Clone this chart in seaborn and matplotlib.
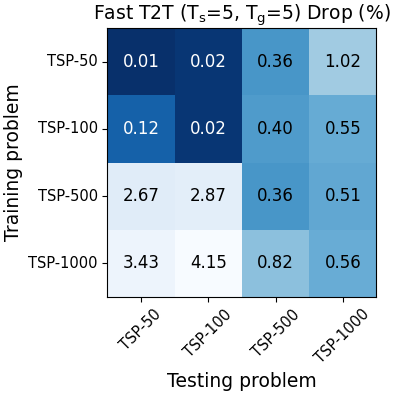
import numpy as np
import pandas as pd
import seaborn as sns
import matplotlib.pyplot as plt
from matplotlib.colors import FuncNorm

train = ["TSP-50", "TSP-100", "TSP-500", "TSP-1000"]
test = ["TSP-50", "TSP-100", "TSP-500", "TSP-1000"]
tsp50 = [0.01, 0.02, 0.36, 1.02]
tsp100 = [0.12, 0.02, 0.40, 0.55]
tsp500 = [2.67, 2.87, 0.36, 0.51]
tsp1000 = [3.43, 4.15, 0.82, 0.56]

df = pd.DataFrame([tsp50, tsp100, tsp500, tsp1000], index=train, columns=test)

# colours follow a log-like scale (small drops are spread out)
norm = FuncNorm((lambda v: np.log(v + 0.1), lambda v: np.exp(v) - 0.1),
                vmin=df.values.min(), vmax=df.values.max())

fig = plt.figure(figsize=(3.98, 3.95), dpi=100)
ax = fig.add_axes([0.269, 0.248, 0.678, 0.681])
sns.heatmap(df, cmap="Blues_r", norm=norm, annot=True, fmt=".2f", cbar=False,
            square=True, annot_kws={"fontsize": 12}, ax=ax)

for t in ax.texts:
    t.set_color("white" if float(t.get_text()) < 0.2 else "black")

for s in ax.spines.values():
    s.set_visible(True)
    s.set_color("black")
    s.set_linewidth(0.8)

ax.tick_params(axis="both", length=3.5, width=0.8, labelsize=10.5)
plt.setp(ax.get_xticklabels(), rotation=45, ha="center")
plt.setp(ax.get_yticklabels(), rotation=0)
ax.set_xlabel("Testing problem", fontsize=13.5)
ax.set_ylabel("Training problem", fontsize=13.5)
ax.set_title(r"Fast T2T ($\mathregular{T_s}$=5, $\mathregular{T_g}$=5) Drop (%)", fontsize=13.5)

plt.savefig("out.png", dpi=100)
